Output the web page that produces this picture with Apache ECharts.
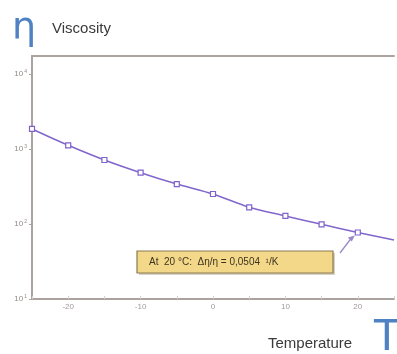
<!DOCTYPE html>
<html><head><meta charset="utf-8">
<script src="https://cdn.jsdelivr.net/npm/echarts@6/dist/echarts.min.js"></script>
<style>html,body{margin:0;padding:0;background:#fff}#c{width:397px;height:354px}</style>
</head><body><div id="c"></div>
<script>
// Data
const temperatures = [-25, -20, -15, -10, -5, 0, 5, 10, 15, 20, 25];
const viscosity    = [1850, 1120, 713, 483, 341, 251, 167, 128, 99, 77, 61];
const markerShown  = [true, true, true, true, true, true, true, true, true, true, false];
const xTickLabels  = [-20, -10, 0, 10, 20];
const yExponents   = [1, 2, 3, 4];
const noteText = 'At  20 °C:  Δη/η = 0,0504  ¹/K';

const chart = echarts.init(document.getElementById('c'), null, {renderer: 'canvas'});
const axisCol = '#aaa39f';
const seriesData = temperatures.map((t, i) => ({
  value: [t, Math.log10(viscosity[i])],
  symbol: markerShown[i] ? 'rect' : 'none'
}));

chart.setOption({
  backgroundColor: '#fff',
  animation: false,
  grid: {left: 32, top: 56, right: 0, bottom: 55, containLabel: false},
  xAxis: [{
    type: 'value', min: -25, max: 25, interval: 5,
    axisLine: {show: true, onZero: false, lineStyle: {color: axisCol, width: 2}},
    axisTick: {show: true, inside: true, length: 3, lineStyle: {color: '#d5d0cc'}},
    splitLine: {show: false},
    axisLabel: {
      color: '#a09a98', fontSize: 8, fontFamily: 'Liberation Sans', margin: 4,
      formatter: v => xTickLabels.indexOf(v) >= 0 ? String(v) : ''
    }
  }, {
    type: 'value', position: 'top', min: -25, max: 25,
    axisLine: {show: true, onZero: false, lineStyle: {color: axisCol, width: 2}},
    axisTick: {show: false}, axisLabel: {show: false}, splitLine: {show: false}
  }],
  yAxis: {
    type: 'value', min: 1, max: 4.24, interval: 1,
    axisLine: {show: true, onZero: false, lineStyle: {color: axisCol, width: 2}},
    axisTick: {show: true, length: 3, lineStyle: {color: axisCol}},
    splitLine: {show: false},
    axisLabel: {
      showMaxLabel: false, margin: 5,
      formatter: v => yExponents.indexOf(v) >= 0 ? '{b|10}{s|' + v + '}' : '',
      rich: {
        b: {fontSize: 8, color: '#8f8a88', fontFamily: 'Liberation Sans'},
        s: {fontSize: 5, color: '#8f8a88', fontFamily: 'Liberation Sans', verticalAlign: 'top', padding: [0, 0, 5, 1]}
      }
    }
  },
  series: [{
    type: 'line', xAxisIndex: 0, data: seriesData, smooth: 0.3,
    symbolSize: 5,
    lineStyle: {color: '#8166cc', width: 1.5},
    itemStyle: {color: '#fff', borderColor: '#7f62cc', borderWidth: 1.2}
  }]
});

// annotation arrow toward the 20 °C point
const tip = chart.convertToPixel({xAxisIndex: 0, yAxisIndex: 0}, [20, Math.log10(viscosity[9])]);
chart.setOption({
  graphic: [
    {type: 'text', left: 12, top: 10, style: {text: 'η', font: '38px "DejaVu Sans"', fill: '#4f82c3'}},
    {type: 'text', left: 52, top: 21, style: {text: 'Viscosity', font: '15px "Liberation Sans"', fill: '#3a3a3a'}},
    {type: 'text', left: 268, top: 336, style: {text: 'Temperature', font: '15px "Liberation Sans"', fill: '#3a3a3a'}},
    {type: 'text', left: 374, top: 318, style: {text: 'T', font: '42px "DejaVu Sans"', fill: '#4f82c3'}},
    {type: 'rect', shape: {x: 139, y: 253, width: 196, height: 22}, style: {fill: '#d9d2c4'}},
    {type: 'rect', shape: {x: 137, y: 251, width: 196, height: 22}, style: {fill: '#f4d88a', stroke: '#8a7a50', lineWidth: 1.2}},
    {type: 'text', x: 149, y: 262, style: {text: noteText, font: '10px "Liberation Sans"', fill: '#3c3320', verticalAlign: 'middle'}},
    {type: 'line', shape: {x1: 340, y1: 253, x2: tip[0] - 6, y2: tip[1] + 5}, style: {stroke: '#9a88c8', lineWidth: 1.3}},
    {type: 'polygon', shape: {points: [[tip[0] - 3, tip[1] + 3], [tip[0] - 10, tip[1] + 5], [tip[0] - 6, tip[1] + 9]]}, style: {fill: '#9a88c8'}}
  ]
});
</script></body></html>
